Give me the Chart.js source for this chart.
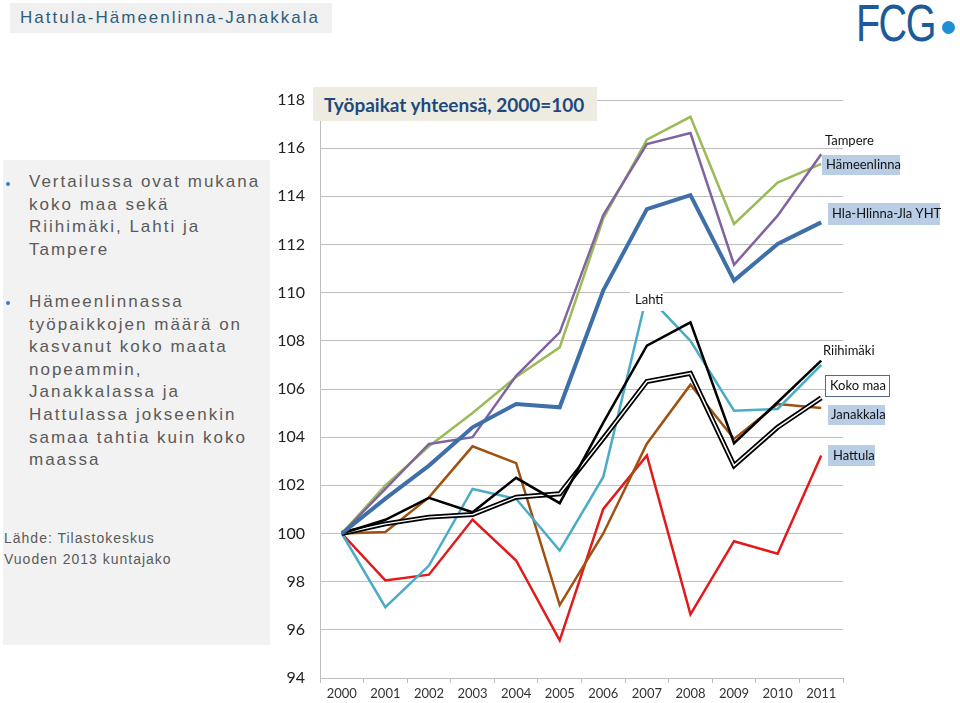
<!DOCTYPE html>
<html>
<head>
<meta charset="utf-8">
<script src="https://cdn.jsdelivr.net/npm/chart.js@4.4.0/dist/chart.umd.min.js"></script>
<style>
  html, body { margin: 0; padding: 0; background: #fff; }
  body { width: 960px; height: 703px; position: relative; overflow: hidden; font-family: "Liberation Sans", Arial, sans-serif; }
  #topTitle { position: absolute; left: 10px; top: 3px; width: 322px; height: 30px; background: #f0f0f0;
    color: #2f5d7c; font-size: 17px; line-height: 30px; padding-left: 10px; box-sizing: border-box; letter-spacing: 2px; white-space: nowrap; }
  #logo { position: absolute; left: 856px; top: -7px; font-size: 52px; color: #1d5a9a; letter-spacing: -2px;
    transform: scaleX(0.76); transform-origin: left top; }
  #logoDot { position: absolute; left: 942px; top: 21px; width: 13px; height: 13px; border-radius: 50%; background: #1e8fd5; }
  #panel { position: absolute; left: 3px; top: 160px; width: 267px; height: 485px; background: #f2f2f2; }
  .bul { position: absolute; left: 26px; color: #5a5a5a; font-size: 17px; line-height: 22.6px; letter-spacing: 2px; white-space: nowrap; }
  .dot { position: absolute; left: 3px; width: 4px; height: 4px; border-radius: 50%; background: #3a7ec0; }
  .src { position: absolute; left: 1px; color: #5a5a5a; font-size: 14px; letter-spacing: 1px; }
  #chartTitle { position: absolute; left: 313px; top: 87px; width: 284px; height: 34px; background: #eeece1; z-index: 2;
    color: #1f497d; font-family: Lato, sans-serif; font-weight: bold; font-size: 19px; line-height: 35px; padding-left: 11px; box-sizing: border-box; }
  #c { position: absolute; left: 0; top: 0; z-index: 1; }
</style>
</head>
<body>
<div id="topTitle">Hattula-Hämeenlinna-Janakkala</div>
<div id="logo">FCG</div>
<div id="logoDot"></div>
<div id="panel">
  <div class="dot" style="top:22px"></div>
  <div class="bul" style="top:11px">Vertailussa ovat mukana<br>koko maa sekä<br>Riihimäki, Lahti ja<br>Tampere</div>
  <div class="dot" style="top:141px"></div>
  <div class="bul" style="top:131px">Hämeenlinnassa<br>työpaikkojen määrä on<br>kasvanut koko maata<br>nopeammin,<br>Janakkalassa ja<br>Hattulassa jokseenkin<br>samaa tahtia kuin koko<br>maassa</div>
  <div class="src" style="top:370px">Lähde: Tilastokeskus</div>
  <div class="src" style="top:391px">Vuoden 2013 kuntajako</div>
</div>
<div id="chartTitle">Työpaikat yhteensä, 2000=100</div>
<canvas id="c" width="960" height="703"></canvas>
<script>
const years = ['2000', '2001', '2002', '2003', '2004', '2005', '2006', '2007', '2008', '2009', '2010', '2011'];

const tampere     = [100, 102.0, 103.62, 105.0, 106.5, 107.73, 113.08, 116.35, 117.3, 112.85, 114.57, 115.35];
const hameenlinna = [100, 101.85, 103.72, 104.0, 106.55, 108.35, 113.22, 116.17, 116.63, 111.16, 113.2, 115.75];
const yht         = [100, 101.45, 102.82, 104.41, 105.38, 105.24, 110.1, 113.47, 114.05, 110.5, 112.02, 112.92];
const lahti       = [100, 96.94, 98.67, 101.85, 101.44, 99.29, 102.35, 109.9, 108.0, 105.1, 105.17, 107.0];
const riihimaki   = [100, 100.57, 101.48, 100.88, 102.31, 101.26, 104.6, 107.8, 108.77, 103.75, 105.45, 107.18];
const kokomaa     = [100, 100.4, 100.68, 100.79, 101.51, 101.65, 103.95, 106.31, 106.65, 102.82, 104.41, 105.63];
const janakkala   = [100, 100.06, 101.5, 103.62, 102.92, 97.03, 100.0, 103.73, 106.18, 103.93, 105.38, 105.21];
const hattula     = [100, 98.05, 98.29, 100.58, 98.88, 95.56, 101.02, 103.24, 96.64, 99.68, 99.16, 103.24];

// labels beside the lines (page coords)
const lineLabels = [
  { text: 'Tampere', x: 825, y: 141, size: 13 },
  { text: 'Hämeenlinna', x: 826, y: 165, size: 13, bg: '#b9cde5', box: [822, 155, 78, 20] },
  { text: 'Hla-Hlinna-Jla YHT', x: 832, y: 214, size: 13, bg: '#b9cde5', box: [828, 203, 112, 22] },
  { text: 'Lahti', x: 635, y: 300, size: 13, bg: '#ffffff', box: [630, 290, 33, 21] },
  { text: 'Riihimäki', x: 823, y: 351, size: 13 },
  { text: 'Koko maa', x: 830, y: 386, size: 13, bg: '#ffffff', border: '#4f6a8f', box: [825, 375, 64, 21] },
  { text: 'Janakkala', x: 831, y: 415, size: 13, bg: '#b9cde5', box: [828, 405, 57, 20] },
  { text: 'Hattula', x: 833, y: 456, size: 13, bg: '#b9cde5', box: [828, 445, 47, 21] }
];

const labelPlugin = {
  id: 'lineLabels',
  afterDraw(chart) {
    const ctx = chart.ctx;
    ctx.save();
    lineLabels.forEach(l => {
      if (l.box) {
        ctx.fillStyle = l.bg;
        ctx.fillRect(l.box[0], l.box[1], l.box[2], l.box[3]);
        if (l.border) {
          ctx.strokeStyle = l.border;
          ctx.lineWidth = 1;
          ctx.strokeRect(l.box[0] + 0.5, l.box[1] + 0.5, l.box[2], l.box[3]);
        }
      }
      ctx.fillStyle = '#111';
      ctx.font = l.size + 'px Lato, sans-serif';
      ctx.textBaseline = 'middle';
      ctx.fillText(l.text, l.x, l.y);
    });
    ctx.restore();
  }
};

function line(data, color, width) {
  return { data: data, borderColor: color, borderWidth: width, pointRadius: 0, tension: 0, fill: false };
}

new Chart(document.getElementById('c'), {
  type: 'line',
  data: {
    labels: years,
    datasets: [
      line(yht, '#3f6fa8', 4),
      line(hameenlinna, '#8064a2', 2.5),
      line(tampere, '#9bbb59', 2.5),
      line(riihimaki, '#000000', 2.5),
      line(kokomaa, '#ffffff', 1.5),
      line(kokomaa, '#000000', 5),
      line(lahti, '#4bacc6', 2.5),
      line(janakkala, '#a0500f', 2.5),
      line(hattula, '#e31a1c', 2.5)
    ]
  },
  options: {
    responsive: false,
    animation: false,
    layout: { padding: { left: 270, top: 100, right: 117, bottom: 0 } },
    plugins: { legend: { display: false }, tooltip: { enabled: false } },
    scales: {
      x: {
        offset: true,
        afterFit: s => { s.height = 25; },
        grid: { drawOnChartArea: false, drawTicks: true, tickLength: 5, offset: true, color: '#bebebe' },
        border: { color: '#bebebe' },
        ticks: { color: '#333', font: { family: 'Lato', size: 13 }, padding: 3, maxRotation: 0 }
      },
      y: {
        min: 94, max: 118,
        afterFit: s => { s.width = 50; },
        grid: { color: '#bebebe', drawTicks: false },
        border: { color: '#bebebe' },
        ticks: { stepSize: 2, color: '#222', font: { family: 'Lato', size: 16 }, padding: 15 }
      }
    }
  },
  plugins: [labelPlugin]
});
</script>
</body>
</html>
